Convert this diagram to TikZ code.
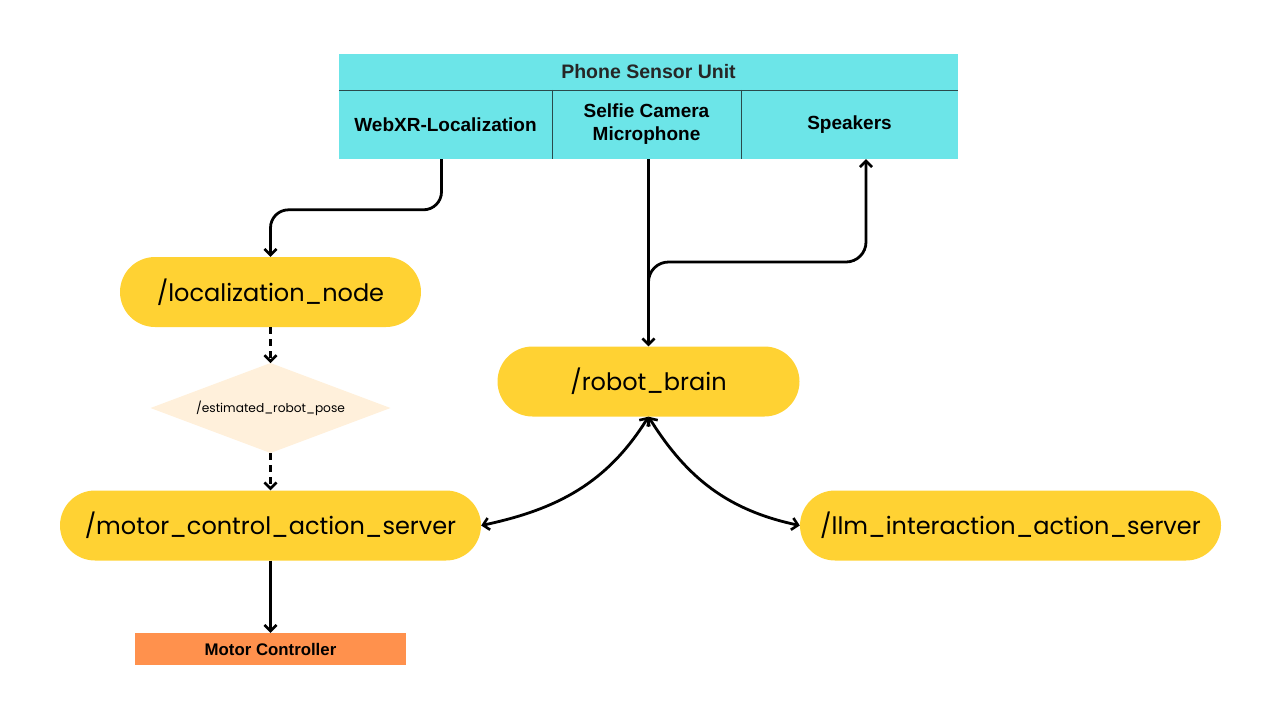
\documentclass[tikz,border=0pt]{standalone}
\usepackage{fontspec}
\setmainfont{Poppins}
\newfontfamily\tabfont{Liberation Sans}
\usetikzlibrary{arrows.meta,shapes.geometric,calc}
\definecolor{cyanbox}{HTML}{6CE5E8}
\definecolor{pill}{HTML}{FFD233}
\definecolor{cream}{HTML}{FFF0DB}
\definecolor{orangebox}{HTML}{FF914D}
\definecolor{sepline}{HTML}{2A4A4C}
\begin{document}
\begin{tikzpicture}[x=1pt,y=-1pt,
  pillnode/.style={fill=pill, rounded corners=35pt, minimum height=70pt, inner sep=0pt, font=\fontsize{24}{28}\selectfont},
  cell/.style={fill=cyanbox, minimum height=69pt, inner sep=0pt, align=center, font=\tabfont\bfseries\fontsize{19}{23}\selectfont},
  arr/.style={line width=2.8pt, -{Straight Barb[length=6pt,width=12pt,line width=2.6pt]}},
  arrb/.style={line width=2.8pt, {Straight Barb[length=6pt,width=12pt,line width=2.6pt]}-{Straight Barb[length=6pt,width=12pt,line width=2.6pt]}},
  dsh/.style={dash pattern=on 7pt off 5pt}
]
\useasboundingbox (0,0) rectangle (1280,721);
% Phone sensor unit
\node[fill=cyanbox, minimum width=619pt, minimum height=36pt, inner sep=0pt, font=\tabfont\bfseries\fontsize{19.5}{23}\selectfont, text=black!85] (hdr) at (648.5,72) {Phone Sensor Unit};
\node[cell, minimum width=213pt] (webxr) at (445.5,124.5) {WebXR-Localization};
\node[cell, minimum width=189pt] (selfie) at (646.5,124.5) {Selfie Camera\\Microphone};
\node[cell, minimum width=217pt] (spk) at (849.5,124.5) {Speakers};
\draw[sepline, line width=1pt] (hdr.south west) -- (hdr.south east);
\draw[sepline, line width=1pt] (webxr.north east) -- (webxr.south east);
\draw[sepline, line width=1pt] (selfie.north east) -- (selfie.south east);
% ROS nodes
\node[pillnode, minimum width=301pt] (loc) at (270.5,292) {/localization\_node};
\fill[cream] (150.5,408) -- (270.5,363) -- (390.5,408) -- (270.5,453) -- cycle;
\node[inner sep=0pt, font=\fontsize{12.2}{14}\selectfont] (pose) at (270.5,408) {/estimated\_robot\_pose};
\coordinate (posetop) at (270.5,363);
\coordinate (posebot) at (270.5,453);
\node[pillnode, minimum width=421pt] (motor) at (270.5,525.5) {/motor\_control\_action\_server};
\node[fill=orangebox, minimum width=271pt, minimum height=32pt, inner sep=0pt, font=\tabfont\bfseries\fontsize{16.8}{19}\selectfont] (mc) at (270.5,649) {Motor Controller};
\node[pillnode, minimum width=302pt] (brain) at (648.5,381.5) {/robot\_brain};
\node[pillnode, minimum width=421pt] (llm) at (1010.5,525.5) {/llm\_interaction\_action\_server};
% connectors
\draw[arr, rounded corners=18pt] ($(webxr.south)+(-4,0)$) |- ($(loc.north)+(0,-47)$) -- (loc.north);
\draw[arr, dsh] (loc.south) -- (posetop);
\draw[arr, dsh] (posebot) -- (motor.north);
\draw[arr] (motor.south) -- (mc.north);
\coordinate (selfout) at (648.5,159);
\draw[arr] (selfout) -- (brain.north);
\coordinate (split) at (648.5,292);
\coordinate (spkin) at ($(spk.south)+(16.5,0)$);
\draw[arr, rounded corners=20pt] (split) -- (648.5,262) -- (spkin |- 0,262) -- (spkin);
\draw[arrb] (motor.east) to[out=12,in=-122] (brain.south);
\draw[arrb] (llm.west) to[out=168,in=-58] (brain.south);
\end{tikzpicture}
\end{document}
